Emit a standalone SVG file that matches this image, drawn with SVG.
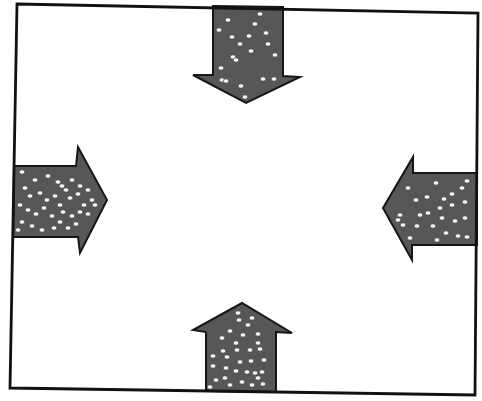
<svg xmlns="http://www.w3.org/2000/svg" xmlns:xlink="http://www.w3.org/1999/xlink" width="482" height="401" viewBox="0 0 482 401">
<style>
.arrow{fill:#575757;stroke:#161616;stroke-width:2;stroke-linejoin:miter}
.frame{fill:none;stroke:#111;stroke-width:2.8}
</style>
<defs>
<ellipse id="d" cx="0" cy="0" rx="2.8" ry="2.2" fill="#f4f4f4" stroke="#2a2a2a" stroke-width="0.6"/>
</defs>
<rect width="482" height="401" fill="#fff"/>
<g id="arrow-top">
<polygon class="arrow" points="213,6 283,7 283,76 300,77 246,103 193,75 213,75"/>
<use href="#d" x="228" y="20"/><use href="#d" x="255" y="24"/><use href="#d" x="232" y="37"/><use href="#d" x="249" y="36"/><use href="#d" x="266" y="33"/><use href="#d" x="268" y="44"/><use href="#d" x="233" y="57"/><use href="#d" x="236" y="60"/><use href="#d" x="221" y="68"/><use href="#d" x="222" y="80"/><use href="#d" x="226" y="81"/><use href="#d" x="263" y="79"/><use href="#d" x="274" y="79"/><use href="#d" x="241" y="86"/><use href="#d" x="245" y="97"/><use href="#d" x="251" y="51"/><use href="#d" x="240" y="44"/><use href="#d" x="260" y="14"/><use href="#d" x="219" y="30"/><use href="#d" x="275" y="55"/>
</g>
<g id="arrow-left">
<polygon class="arrow" points="14,166 76,166 78,147 107,200 80,253 78,237 13,237"/>
<use href="#d" x="22" y="172"/><use href="#d" x="35" y="180"/><use href="#d" x="48" y="176"/><use href="#d" x="58" y="182"/><use href="#d" x="62" y="186"/><use href="#d" x="66" y="190"/><use href="#d" x="72" y="180"/><use href="#d" x="80" y="186"/><use href="#d" x="88" y="190"/><use href="#d" x="25" y="188"/><use href="#d" x="30" y="196"/><use href="#d" x="40" y="193"/><use href="#d" x="47" y="200"/><use href="#d" x="55" y="196"/><use href="#d" x="60" y="205"/><use href="#d" x="70" y="198"/><use href="#d" x="78" y="194"/><use href="#d" x="84" y="205"/><use href="#d" x="92" y="200"/><use href="#d" x="20" y="205"/><use href="#d" x="28" y="210"/><use href="#d" x="36" y="214"/><use href="#d" x="44" y="208"/><use href="#d" x="52" y="216"/><use href="#d" x="63" y="212"/><use href="#d" x="72" y="216"/><use href="#d" x="80" y="212"/><use href="#d" x="88" y="214"/><use href="#d" x="22" y="222"/><use href="#d" x="32" y="226"/><use href="#d" x="42" y="230"/><use href="#d" x="54" y="228"/><use href="#d" x="60" y="222"/><use href="#d" x="68" y="228"/><use href="#d" x="76" y="224"/><use href="#d" x="95" y="205"/><use href="#d" x="18" y="230"/>
</g>
<g id="arrow-right">
<polygon class="arrow" points="477,173 413,173 413,157 383,208 412,260 412,245 477,245"/>
<use href="#d" x="408" y="188"/><use href="#d" x="436" y="183"/><use href="#d" x="467" y="181"/><use href="#d" x="462" y="188"/><use href="#d" x="452" y="194"/><use href="#d" x="444" y="199"/><use href="#d" x="416" y="200"/><use href="#d" x="427" y="197"/><use href="#d" x="465" y="202"/><use href="#d" x="440" y="208"/><use href="#d" x="452" y="205"/><use href="#d" x="400" y="215"/><use href="#d" x="420" y="215"/><use href="#d" x="428" y="213"/><use href="#d" x="442" y="218"/><use href="#d" x="455" y="221"/><use href="#d" x="465" y="218"/><use href="#d" x="403" y="225"/><use href="#d" x="417" y="226"/><use href="#d" x="433" y="226"/><use href="#d" x="446" y="233"/><use href="#d" x="458" y="236"/><use href="#d" x="467" y="237"/><use href="#d" x="398" y="220"/><use href="#d" x="437" y="240"/><use href="#d" x="410" y="238"/>
</g>
<g id="arrow-bottom">
<polygon class="arrow" points="206,391 206,332 193,330 242,303 292,333 276,332 276,392"/>
<use href="#d" x="238" y="313"/><use href="#d" x="239" y="320"/><use href="#d" x="252" y="318"/><use href="#d" x="248" y="325"/><use href="#d" x="230" y="331"/><use href="#d" x="243" y="335"/><use href="#d" x="258" y="334"/><use href="#d" x="222" y="338"/><use href="#d" x="236" y="343"/><use href="#d" x="258" y="343"/><use href="#d" x="223" y="351"/><use href="#d" x="237" y="350"/><use href="#d" x="250" y="350"/><use href="#d" x="260" y="349"/><use href="#d" x="213" y="356"/><use href="#d" x="227" y="357"/><use href="#d" x="240" y="362"/><use href="#d" x="251" y="361"/><use href="#d" x="264" y="360"/><use href="#d" x="213" y="366"/><use href="#d" x="226" y="368"/><use href="#d" x="236" y="371"/><use href="#d" x="247" y="372"/><use href="#d" x="255" y="373"/><use href="#d" x="262" y="372"/><use href="#d" x="216" y="380"/><use href="#d" x="225" y="378"/><use href="#d" x="230" y="385"/><use href="#d" x="242" y="382"/><use href="#d" x="252" y="385"/><use href="#d" x="263" y="384"/><use href="#d" x="210" y="387"/><use href="#d" x="258" y="378"/>
</g>
<g id="frame">
<polygon class="frame" points="17,4 478,13 475,395 10,388"/>
</g>
</svg>
